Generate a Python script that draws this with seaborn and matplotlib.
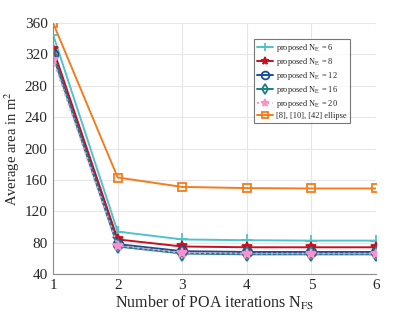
import matplotlib
matplotlib.use("Agg")
import pandas as pd
import matplotlib.pyplot as plt
import seaborn as sns

# Data
iterations = [1, 2, 3, 4, 5, 6]
area_ne6 = [345, 94, 84, 83, 82.5, 82.5]
area_ne8 = [327, 84, 75, 74, 74, 74]
area_ne12 = [320, 78, 69, 68, 68, 68]
area_ne16 = [318, 75, 66, 65, 65, 65]
area_ne20 = [313, 76, 67, 66, 66, 66]
area_ellipse = [360, 163, 151, 149.5, 149, 149]

labels = [
    r"proposed N$_\mathrm{E}$ = 6",
    r"proposed N$_\mathrm{E}$ = 8",
    r"proposed N$_\mathrm{E}$ = 12",
    r"proposed N$_\mathrm{E}$ = 16",
    r"proposed N$_\mathrm{E}$ = 20",
    "[8], [10], [42] ellipse",
]


def main():
    sns.set_style("whitegrid")
    plt.rcParams["font.family"] = ["Liberation Serif", "DejaVu Serif"]
    plt.rcParams["mathtext.fontset"] = "stix"

    series = [area_ne6, area_ne8, area_ne12, area_ne16, area_ne20, area_ellipse]
    styles = [
        # color, marker, linestyle, markersize, mfc
        ("#4fc4c8", "+", "-", 8, "#4fc4c8"),
        ("#c8101e", "*", "-", 7, "#c8101e"),
        ("#1b4f94", "o", "-", 7, "none"),
        ("#1f7f86", "d", "-", 7, "none"),
        ("#ff8fcf", "*", ":", 7, "#ff8fcf"),
        ("#f47c1c", "s", "-", 6, "none"),
    ]

    fig, ax = plt.subplots(figsize=(4.15, 3.12), dpi=100)
    for vals, lab, (col, mk, ls, ms, mfc) in zip(series, labels, styles):
        df = pd.DataFrame({"x": iterations, "y": vals})
        sns.lineplot(data=df, x="x", y="y", ax=ax, color=col, marker=mk,
                     linestyle=ls, markersize=ms, markerfacecolor=mfc,
                     markeredgecolor=col, markeredgewidth=1.3,
                     linewidth=1.4, label=lab)

    ax.set_xlim(1, 6)
    ax.set_ylim(40, 360)
    ax.set_xticks(iterations)
    ax.set_yticks(range(40, 361, 40))
    ax.tick_params(labelsize=11, length=2, pad=2)
    ax.set_xlabel(r"Number of POA iterations N$_\mathrm{FS}$", fontsize=11.5, labelpad=1)
    ax.set_ylabel(r"Average area in m$^2$", fontsize=10.5, labelpad=2)
    ax.grid(True, color="#e6e6e6", linewidth=0.8)
    for side in ["top", "right"]:
        ax.spines[side].set_visible(False)
    for side in ["left", "bottom"]:
        ax.spines[side].set_color("#8c8c8c")
        ax.spines[side].set_linewidth(0.8)

    leg = ax.legend(loc="upper right", bbox_to_anchor=(0.918, 0.938),
                    fontsize=6, frameon=True, fancybox=False,
                    handlelength=2.0, labelspacing=0.25, borderpad=0.35,
                    handletextpad=0.3, markerscale=0.8, borderaxespad=0)
    leg.get_frame().set_edgecolor("#555555")
    leg.get_frame().set_linewidth(0.8)

    fig.subplots_adjust(left=0.128, right=0.906, bottom=0.122, top=0.926)
    fig.savefig("out.png", dpi=100)
    plt.close(fig)


if __name__ == "__main__":
    main()
